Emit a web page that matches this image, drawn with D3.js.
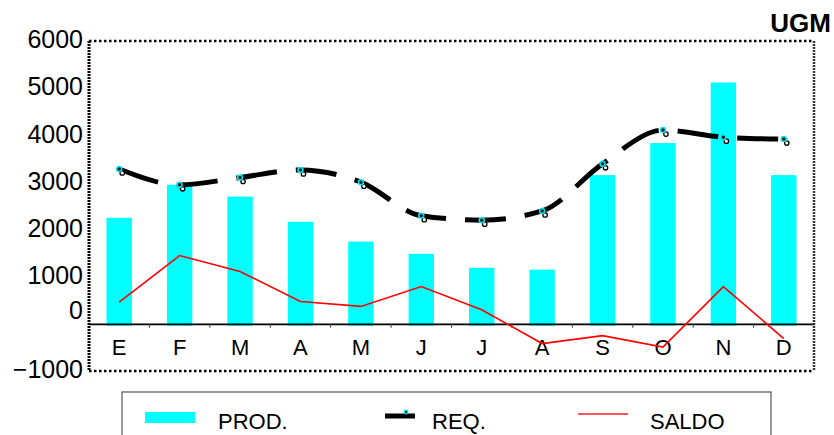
<!DOCTYPE html>
<html>
<head>
<meta charset="utf-8">
<script src="https://cdn.jsdelivr.net/npm/d3@7/dist/d3.min.js"></script>
<style>
  html, body { margin: 0; padding: 0; background: #fff; }
  svg { display: block; font-family: "Liberation Sans", Arial, sans-serif; }
</style>
</head>
<body>
<svg id="chart" width="834" height="435"></svg>
<script>
// Monthly balance: production, requirement and the resulting balance (UGM)
const months = ["E", "F", "M", "A", "M", "J", "J", "A", "S", "O", "N", "D"];
const prod   = [2250, 2950, 2700, 2165, 1745, 1485, 1190, 1150, 3155, 3835, 5120, 3155];
const req    = [3285, 2950, 3105, 3265, 3005, 2295, 2200, 2395, 3395, 4110, 3960, 3920];
const saldo  = [460, 1450, 1110, 475, 370, 790, 300, -418, -250, -492, 790, -312];
const yTicks = [6000, 5000, 4000, 3000, 2000, 1000, 0, -1000];
const legendItems = ["PROD.", "REQ.", "SALDO"];

const svg = d3.select("#chart");
const plot = { left: 89, right: 814, top: 41, bottom: 371 };

const x = d3.scaleBand()
  .domain(d3.range(months.length))
  .range([plot.left, plot.right])
  .padding(0);
const y = d3.scaleLinear()
  .domain([-1000, 6000])
  .range([plot.bottom, plot.top]);
const cx = i => x(i) + x.bandwidth() / 2;
const barW = x.bandwidth() * 0.42;

// Production bars
svg.append("g").selectAll("rect")
  .data(prod)
  .join("rect")
  .attr("x", (d, i) => cx(i) - barW / 2)
  .attr("y", d => y(d))
  .attr("width", barW)
  .attr("height", d => y(0) - y(d) + 2)
  .attr("fill", "#00ffff");

// Zero line with category ticks and month labels
const xAxis = svg.append("g")
  .attr("transform", `translate(0,${y(0)})`)
  .call(d3.axisBottom(x).tickSize(0).tickFormat(i => months[i]).tickPadding(16));
xAxis.select(".domain").attr("stroke", "#000").attr("stroke-width", 1.6);
xAxis.selectAll("text")
  .attr("font-size", 22)
  .attr("font-family", "Liberation Sans, Arial, sans-serif")
  .attr("fill", "#000");
svg.append("g").selectAll("line")
  .data(d3.range(1, months.length))
  .join("line")
  .attr("x1", i => x(i)).attr("x2", i => x(i))
  .attr("y1", y(0)).attr("y2", y(0) + 4)
  .attr("stroke", "#444").attr("stroke-width", 1);

// Balance line
svg.append("path")
  .datum(saldo)
  .attr("fill", "none")
  .attr("stroke", "#ff0000")
  .attr("stroke-width", 1.6)
  .attr("d", d3.line().x((d, i) => cx(i)).y(d => y(d)));

// Requirement: thick dashed line
svg.append("path")
  .datum(req)
  .attr("fill", "none")
  .attr("stroke", "#000")
  .attr("stroke-width", 5)
  .attr("stroke-linejoin", "round")
  .attr("stroke-dasharray", "41,19")
  .attr("d", d3.line().x((d, i) => cx(i)).y(d => y(d)).curve(d3.curveMonotoneX));

// Requirement markers: shadow ring plus cyan ring
const mk = svg.append("g");
mk.selectAll("circle.shadow")
  .data(req)
  .join("circle")
  .attr("class", "shadow")
  .attr("cx", (d, i) => cx(i) + 3)
  .attr("cy", d => y(d) + 4)
  .attr("r", 2.2)
  .attr("fill", "#fff")
  .attr("stroke", "#000")
  .attr("stroke-width", 1.3);
mk.selectAll("circle.pt")
  .data(req)
  .join("circle")
  .attr("class", "pt")
  .attr("cx", (d, i) => cx(i))
  .attr("cy", d => y(d))
  .attr("r", 2.5)
  .attr("fill", "#222")
  .attr("stroke", "#00e5ee")
  .attr("stroke-width", 1.5);

// Y axis labels
const yAxis = svg.append("g")
  .attr("transform", `translate(${plot.left - 5},0)`)
  .call(d3.axisLeft(y).tickValues(yTicks).tickSize(0).tickPadding(1).tickFormat(d3.format("d")));
yAxis.select(".domain").remove();
yAxis.selectAll("text")
  .attr("font-size", 25)
  .attr("font-family", "Liberation Sans, Arial, sans-serif")
  .attr("fill", "#000")
  .attr("dy", "0.27em");
yAxis.selectAll(".tick").filter(d => d === 0).select("text").attr("dy", "-0.2em");

// Dotted frame
const frame = svg.append("g").attr("fill", "none").attr("stroke", "#000");
frame.append("line")
  .attr("x1", plot.left).attr("x2", plot.right).attr("y1", plot.top).attr("y2", plot.top)
  .attr("stroke-width", 2.5).attr("stroke-dasharray", "2.5,2.5");
frame.append("line")
  .attr("x1", plot.left).attr("x2", plot.right).attr("y1", plot.bottom).attr("y2", plot.bottom)
  .attr("stroke-width", 2.5).attr("stroke-dasharray", "2.5,2.5");
frame.append("line")
  .attr("x1", plot.left).attr("x2", plot.left).attr("y1", plot.top).attr("y2", plot.bottom)
  .attr("stroke-width", 3).attr("stroke-dasharray", "2,1");
frame.append("line")
  .attr("x1", plot.right).attr("x2", plot.right).attr("y1", plot.top).attr("y2", plot.bottom)
  .attr("stroke-width", 2.5).attr("stroke-dasharray", "2,1").attr("stroke", "#333");

// Unit label
svg.append("text")
  .attr("x", 831).attr("y", 32)
  .attr("text-anchor", "end")
  .attr("font-size", 26).attr("font-weight", "bold")
  .text("UGM");

// Legend
const lg = svg.append("g");
lg.append("rect")
  .attr("x", 122).attr("y", 392).attr("width", 649).attr("height", 60)
  .attr("fill", "#fff").attr("stroke", "#555").attr("stroke-width", 1.2);
lg.append("rect")
  .attr("x", 145).attr("y", 412).attr("width", 50).attr("height", 11)
  .attr("fill", "#00ffff");
lg.append("line")
  .attr("x1", 385).attr("x2", 415).attr("y1", 416).attr("y2", 416)
  .attr("stroke", "#000").attr("stroke-width", 5);
lg.append("circle")
  .attr("cx", 406).attr("cy", 412).attr("r", 1.8)
  .attr("fill", "#222").attr("stroke", "#00e5ee").attr("stroke-width", 1.2);
lg.append("line")
  .attr("x1", 578).attr("x2", 628).attr("y1", 414).attr("y2", 414)
  .attr("stroke", "#ff2020").attr("stroke-width", 1.6);
const legendX = [218, 432, 650];
lg.selectAll("text")
  .data(legendItems)
  .join("text")
  .attr("x", (d, i) => legendX[i])
  .attr("y", 429)
  .attr("font-size", 22)
  .attr("fill", "#000")
  .text(d => d);
</script>
</body>
</html>
